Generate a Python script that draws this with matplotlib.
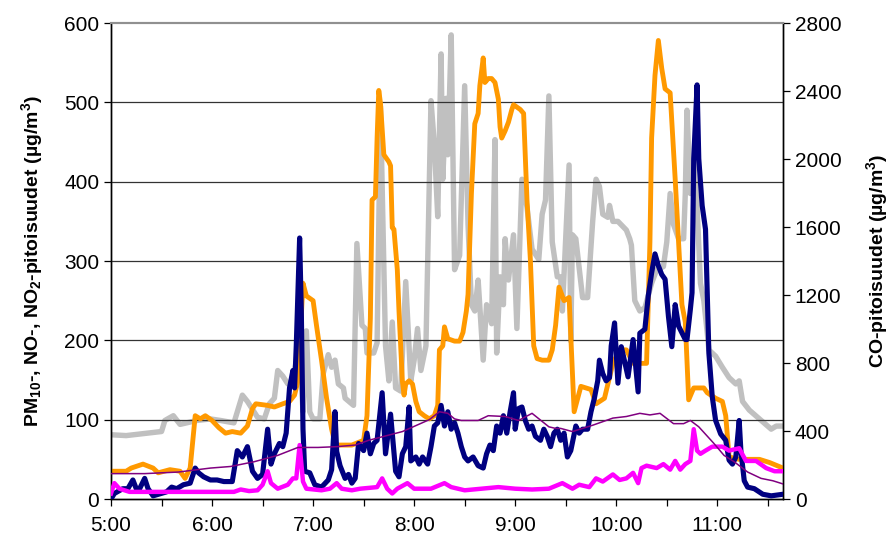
import matplotlib.pyplot as plt

plt.rcParams['font.family'] = ['Liberation Sans', 'DejaVu Sans']
plt.rcParams['mathtext.default'] = 'regular'

# minutes after 5:00, concentrations in ug/m3
pm10_t = [0, 9, 12, 19, 25, 28, 35, 41, 44, 47, 50, 53, 56, 60, 64, 68, 72, 77, 81, 84, 86, 93, 97,
          102, 106, 109, 111, 114, 116, 120, 122, 125, 128, 131, 133, 135, 143, 150, 152, 154, 155,
          157, 158, 159, 160, 162, 165, 166, 167, 168, 170, 171, 173, 174, 175, 177, 179, 181, 183,
          186, 189, 192, 194, 195, 197, 198, 200, 204, 207, 209, 211, 212, 214, 216, 218, 219, 221,
          222, 224, 226, 228, 230, 231, 232, 234, 236, 238, 239, 243, 245, 247, 249, 251, 253, 256,
          260, 262, 264, 266, 269, 272, 275, 279, 285, 288, 293, 298, 302, 306, 310, 318, 320, 321,
          323, 325, 327, 329, 332, 335, 337, 339, 341, 343, 346, 352, 354, 359, 363, 365, 367, 373,
          385, 391, 399]
pm10 = [35, 35, 39, 44, 39, 33, 37, 35, 26, 39, 105, 101, 105, 99, 90, 83, 85, 83, 92, 114, 120, 118,
        116, 120, 123, 131, 149, 272, 256, 250, 219, 175, 127, 88, 70, 68, 68, 74, 105, 228, 377,
        381, 455, 515, 499, 434, 425, 420, 342, 340, 289, 237, 149, 131, 145, 149, 145, 123, 110,
        105, 101, 105, 118, 188, 193, 217, 202, 199, 199, 210, 237, 258, 385, 473, 486, 521, 556,
        525, 530, 530, 525, 504, 469, 455, 464, 475, 491, 497, 491, 486, 377, 302, 193, 177, 175,
        175, 188, 219, 267, 250, 254, 110, 142, 138, 120, 127, 171, 188, 188, 171, 171, 324, 455,
        534, 578, 543, 517, 512, 403, 324, 245, 223, 125, 140, 140, 134, 127, 123, 105, 53, 50,
        50, 46, 39]

no_t = [0, 2, 7, 10, 13, 15, 17, 20, 22, 25, 33, 36, 39, 43, 47, 50, 52, 55, 59, 63, 67, 72, 75, 78,
        81, 84, 87, 90, 93, 95, 97, 100, 102, 104, 106, 108, 109, 110, 112, 113, 114, 115, 118, 121,
        125, 129, 131, 133, 134, 136, 139, 141, 143, 145, 147, 150, 152, 154, 156, 158, 161, 163,
        166, 169, 171, 173, 175, 177, 178, 181, 183, 185, 188, 190, 192, 194, 196, 198, 200, 202,
        204, 206, 208, 210, 212, 215, 218, 221, 223, 225, 227, 229, 231, 233, 235, 237, 239, 240,
        242, 244, 246, 248, 250, 252, 255, 257, 259, 261, 263, 265, 267, 269, 271, 273, 276, 278,
        280, 283, 285, 287, 289, 290, 292, 294, 296, 297, 299, 301, 303, 307, 310, 313, 314, 317,
        319, 321, 323, 325, 327, 329, 331, 333, 335, 337, 341, 342, 344, 345, 346, 348, 349, 351,
        353, 355, 357, 359, 362, 365, 367, 369, 371, 373, 374, 376, 378, 382, 387, 392, 399]
no = [0, 7, 13, 13, 24, 13, 13, 26, 13, 4, 9, 15, 13, 18, 20, 39, 33, 28, 24, 24, 22, 22, 61, 53, 66,
      35, 26, 31, 88, 44, 57, 70, 66, 83, 140, 162, 140, 193, 329, 237, 88, 35, 33, 18, 15, 24, 37,
      110, 60, 42, 26, 31, 20, 26, 70, 61, 83, 57, 70, 74, 134, 57, 107, 35, 28, 57, 66, 116, 48, 53,
      44, 53, 44, 66, 92, 96, 118, 92, 110, 88, 96, 83, 66, 53, 48, 53, 42, 39, 57, 68, 61, 92, 83,
      105, 83, 110, 134, 88, 114, 116, 99, 88, 92, 79, 74, 88, 79, 66, 83, 88, 74, 83, 53, 61, 92,
      83, 88, 88, 110, 127, 149, 175, 158, 149, 153, 193, 222, 146, 192, 154, 201, 135, 209, 214,
      256, 285, 309, 294, 283, 277, 230, 192, 245, 218, 201, 201, 239, 260, 429, 522, 429, 370,
      340, 184, 129, 99, 82, 74, 49, 44, 53, 99, 61, 23, 15, 13, 6, 4, 6]

no2_t = [0, 20, 40, 59, 71, 85, 99, 111, 123, 134, 145, 153, 173, 189, 195, 200, 204, 208, 218, 224,
         234, 242, 250, 260, 264, 267, 274, 286, 298, 306, 314, 320, 326, 334, 340, 344, 349, 358,
         364, 370, 378, 386, 393, 399]
no2 = [32, 32, 34, 39, 41, 47, 55, 65, 65, 66, 68, 74, 85, 100, 110, 108, 101, 99, 99, 105, 104, 99,
       108, 91, 89, 89, 85, 93, 102, 104, 108, 106, 108, 95, 95, 99, 91, 70, 55, 47, 34, 26, 23, 19]

pm25_t = [0, 2, 5, 11, 23, 43, 63, 73, 77, 82, 87, 90, 93, 95, 99, 105, 108, 110, 112, 114, 116, 125,
          130, 134, 137, 143, 148, 158, 161, 164, 167, 170, 176, 180, 190, 198, 202, 210, 220, 230,
          240, 250, 260, 268, 274, 278, 284, 288, 292, 298, 302, 306, 310, 313, 315, 318, 324, 328,
          332, 335, 338, 341, 344, 346, 348, 350, 353, 357, 363, 367, 373, 377, 383, 389, 394, 399]
pm25 = [7, 20, 13, 9, 9, 9, 9, 9, 12, 10, 11, 18, 35, 20, 13, 18, 26, 26, 68, 22, 13, 11, 13, 20, 13,
        11, 13, 15, 26, 13, 7, 13, 20, 13, 13, 20, 15, 11, 13, 15, 13, 12, 13, 20, 13, 18, 15, 26,
        22, 31, 24, 26, 33, 20, 39, 42, 39, 44, 37, 48, 37, 44, 48, 88, 61, 57, 61, 66, 66, 61, 64,
        48, 48, 39, 35, 35]

co_t = [0, 9, 21, 30, 32, 37, 41, 51, 59, 65, 73, 78, 81, 87, 91, 94, 97, 99, 102, 105, 108, 112, 113,
        114, 116, 118, 120, 124, 126, 129, 131, 133, 135, 138, 139, 144, 146, 149, 151, 152, 156,
        158, 160, 163, 165, 167, 169, 172, 175, 178, 180, 182, 184, 187, 190, 192, 194, 196, 197,
        199, 200, 202, 204, 207, 210, 212, 214, 216, 218, 221, 223, 226, 228, 229, 231, 233, 234,
        236, 239, 241, 244, 247, 250, 254, 256, 258, 260, 262, 265, 267, 268, 272, 273, 274, 276,
        280, 283, 286, 288, 290, 292, 295, 296, 298, 301, 306, 308, 309, 311, 314, 317, 321, 324,
        328, 330, 332, 334, 337, 340, 341, 342, 344, 346, 348, 350, 352, 354, 355, 359, 363, 367,
        371, 373, 375, 379, 385, 392, 395, 399]
co = [378, 373, 387, 397, 462, 490, 439, 462, 471, 462, 448, 611, 574, 481, 471, 560, 593, 756, 723,
      677, 695, 929, 695, 513, 989, 513, 471, 471, 737, 849, 775, 817, 677, 653, 593, 551, 1503,
      1022, 1003, 859, 859, 919, 2310, 901, 695, 1041, 653, 635, 1279, 695, 817, 1003, 756, 901,
      2343, 2086, 1661, 2618, 1881, 2357, 2025, 2730, 1349, 1433, 2431, 1615, 1143, 1106, 1288, 817,
      1143, 1031, 2114, 859, 1307, 1143, 1531, 1288, 1554, 1003, 1881, 1717, 1470, 1409, 1675, 1759,
      2371, 1512, 1307, 1307, 1106, 1965, 929, 1554, 1531, 1185, 1185, 1633, 1881, 1839, 1675, 1657,
      1727, 1633, 1633, 1582, 1531, 1493, 1167, 1106, 1125, 1269, 1349, 1367, 1512, 1797, 1615,
      1531, 1531, 1797, 2287, 1797, 1983, 1717, 1269, 1167, 980, 877, 840, 775, 714, 677, 695, 574,
      523, 471, 411, 429, 429]

tick_minutes = list(range(0, 400, 30))
tick_labels = ['5:00', '', '6:00', '', '7:00', '', '8:00', '', '9:00', '', '10:00', '', '11:00', '']

fig = plt.figure(figsize=(8.93, 5.44), dpi=100)
ax = fig.add_axes([0.1243, 0.0827, 0.7525, 0.875])
ax2 = ax.twinx()

# left-axis series drawn above the CO line
ax.set_zorder(ax2.get_zorder() + 1)
ax.patch.set_visible(False)

ax2.plot(co_t, co, color='#C0C0C0', lw=3.9, solid_joinstyle='round', zorder=2)
ax.plot(pm10_t, pm10, color='#FF9900', lw=3.5, solid_joinstyle='round', zorder=1)
ax.plot(no_t, no, color='#000080', lw=3.7, solid_joinstyle='round', zorder=3)
ax.plot(pm25_t, pm25, color='#FF00FF', lw=3.2, solid_joinstyle='round', zorder=4)
ax.plot(no2_t, no2, color='#800080', lw=1.1, zorder=5)

ax.set_xlim(0, 399)
ax.set_ylim(0, 600)
ax2.set_ylim(0, 2800)
ax.set_yticks(range(0, 601, 100))
ax2.set_yticks(range(0, 2801, 400))
ax.set_xticks(tick_minutes)
ax.set_xticklabels(tick_labels)

for y in range(100, 600, 100):
    ax.axhline(y, color='#333333', lw=0.9, zorder=0)

for a in (ax, ax2):
    a.tick_params(direction='out', length=5, width=0.9, labelsize=15, color='black')
    a.spines['top'].set_color('#909090')
    a.spines['top'].set_linewidth(1.5)
    for s in ('left', 'right', 'bottom'):
        a.spines[s].set_linewidth(1.0)
ax.tick_params(axis='x', pad=7)

ax.set_ylabel(r'PM$_{10}$-, NO-, NO$_2$-pitoisuudet (µg/m$^3$)', fontsize=14, fontweight='bold',
              labelpad=14)
ax2.set_ylabel(r'CO-pitoisuudet (µg/m$^3$)', fontsize=14, fontweight='bold', labelpad=16)

fig.savefig('out.png', dpi=100)
